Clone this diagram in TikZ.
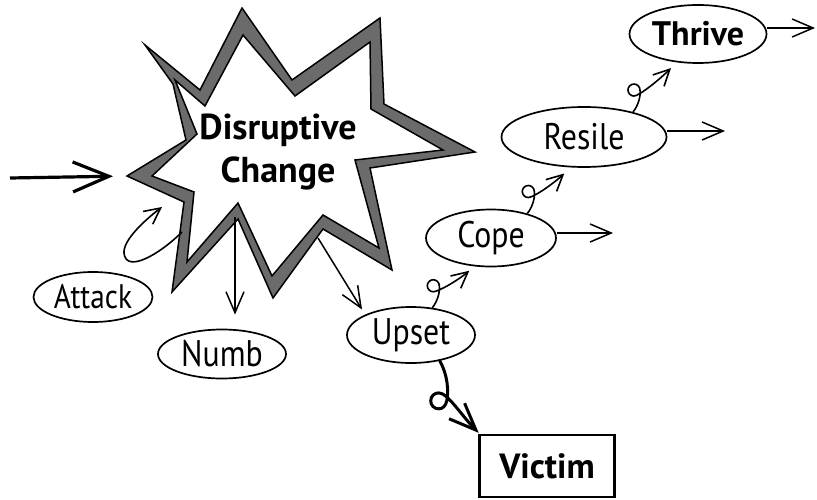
\documentclass[tikz,border=0pt]{standalone}
\usepackage{fontspec}
\setmainfont{PT Sans}
\newfontfamily\lblfont{PT Sans}[FakeStretch=0.86]
\usetikzlibrary{arrows.meta,shapes.geometric}
\begin{document}
\begin{tikzpicture}[x=1pt,y=-1pt,line join=miter,
  lab/.style={ellipse,draw,line width=1.7pt,inner sep=0pt,font=\lblfont\fontsize{37}{40}\selectfont},
  conn/.style={line width=1.5pt,-{Straight Barb[length=21pt,width=18pt]}},
  curl/.style={line width=1.6pt,-{Straight Barb[length=16pt,width=16pt]}},
  mainarrow/.style={line width=3.2pt,-{Straight Barb[length=36pt,width=30pt]}},
  victimcurl/.style={line width=3pt,line cap=round,-{Straight Barb[length=27pt,width=22pt]}},
  band/.style={fill=black!58,draw=black,line width=1.5pt},
  hole/.style={fill=white,draw=black,line width=1.5pt}]
\useasboundingbox (0,0) rectangle (817,500);

% explosion star
\path[band] (242,8) -- (292,80) -- (380,18) -- (384,104) -- (475,152) -- (370,168)
  -- (392,270) -- (323,229) -- (273,298) -- (238,219) -- (172,292) -- (184,202)
  -- (127,176) -- (186,140) -- (173,84) -- (145,45) -- (200,90) -- cycle;
\path[hole] (243,35) -- (295,96) -- (370,42) -- (371,109) -- (443,150) -- (355,160)
  -- (379,248) -- (323,215) -- (272,276) -- (238,203) -- (187,262) -- (194,192)
  -- (152,176) -- (197,134) -- (175,80) -- (205,106) -- cycle;
\node[font=\bfseries\fontsize{36}{43}\selectfont,align=center,inner sep=0pt] (dc) at (278,152) {Disruptive\\Change};

\coordinate (src) at (10,178);
\coordinate (starL) at (127,176);
\coordinate (starLL) at (182,232);
\coordinate (starLLtip) at (162,207);
\coordinate (starB1) at (235,217);
\coordinate (starB2) at (318,238);

% nodes
\node[lab,minimum width=119pt,minimum height=50pt,font=\lblfont\fontsize{34}{38}\selectfont] (attack) at (93,297) {Attack};
\node[lab,minimum width=128pt,minimum height=49pt] (numb) at (222,354) {Numb};
\node[lab,minimum width=128pt,minimum height=56pt] (upset) at (411,335) {Upset};
\node[lab,minimum width=130pt,minimum height=57pt] (cope) at (491,238) {Cope};
\node[lab,minimum width=165pt,minimum height=60pt] (resile) at (584,137) {Resile};
\node[lab,minimum width=137pt,minimum height=58pt,font=\bfseries\fontsize{34}{38}\selectfont] (thrive) at (698,34) {Thrive};
\node[draw,line width=2.2pt,minimum width=135pt,minimum height=62pt,inner sep=0pt,font=\bfseries\fontsize{35}{38}\selectfont] (victim) at (547,466) {Victim};

\coordinate (copeOut) at (613,233);
\coordinate (resileOut) at (725,131);
\coordinate (thriveOut) at (815,28);

% connectors
\draw[mainarrow,shorten >=14pt] (src) -- (starL);
\draw[conn,shorten >=14pt] (starB1) -- (starB1 |- numb.north);
\draw[conn,shorten >=6pt] (starB2) -- (upset.156);
\draw[curl] (starLL) .. controls (160,254) and (126,274) .. (124,253)
  .. controls (123,240) and (145,220) .. (starLLtip);

\draw[conn] (cope.east |- copeOut) -- (copeOut);
\draw[conn] (resile.east |- resileOut) -- (resileOut);
\draw[conn] (thrive.east |- thriveOut) -- (thriveOut);

\begin{scope}[shift={(upset.52)}]
\draw[curl] (upset.52) .. controls (5,-6) and (8,-16) .. (7,-22)
  .. controls (7,-25.3) and (4.3,-28) .. (1,-28)
  .. controls (-2.3,-28) and (-5,-25.3) .. (-5,-22)
  .. controls (-5,-18.7) and (-2.3,-16) .. (1,-16)
  .. controls (6,-16) and (25,-27) .. (37,-37);
\end{scope}
\begin{scope}[shift={(cope.34)}]
\draw[curl] (cope.34) .. controls (5,-6) and (8,-16) .. (7,-22)
  .. controls (7,-25.3) and (4.3,-28) .. (1,-28)
  .. controls (-2.3,-28) and (-5,-25.3) .. (-5,-22)
  .. controls (-5,-18.7) and (-2.3,-16) .. (1,-16)
  .. controls (6,-16) and (25,-29) .. (37,-40);
\end{scope}
\begin{scope}[shift={(resile.27)}]
\draw[curl] (resile.27) .. controls (5,-6) and (8,-16) .. (7,-22)
  .. controls (7,-25.3) and (4.3,-28) .. (1,-28)
  .. controls (-2.3,-28) and (-5,-25.3) .. (-5,-22)
  .. controls (-5,-18.7) and (-2.3,-16) .. (1,-16)
  .. controls (6,-16) and (26,-32) .. (38,-44);
\end{scope}
\begin{scope}[shift={(upset.-42)}]
\draw[victimcurl] (upset.-42) .. controls (8,14) and (9,30) .. (7,40)
  .. controls (6,45) and (3,48) .. (-1,48)
  .. controls (-6,48) and (-9,44) .. (-9,40)
  .. controls (-9,35) and (-5,32) .. (-1,32)
  .. controls (8,32) and (22,55) .. (39,72);
\end{scope}
\end{tikzpicture}
\end{document}
